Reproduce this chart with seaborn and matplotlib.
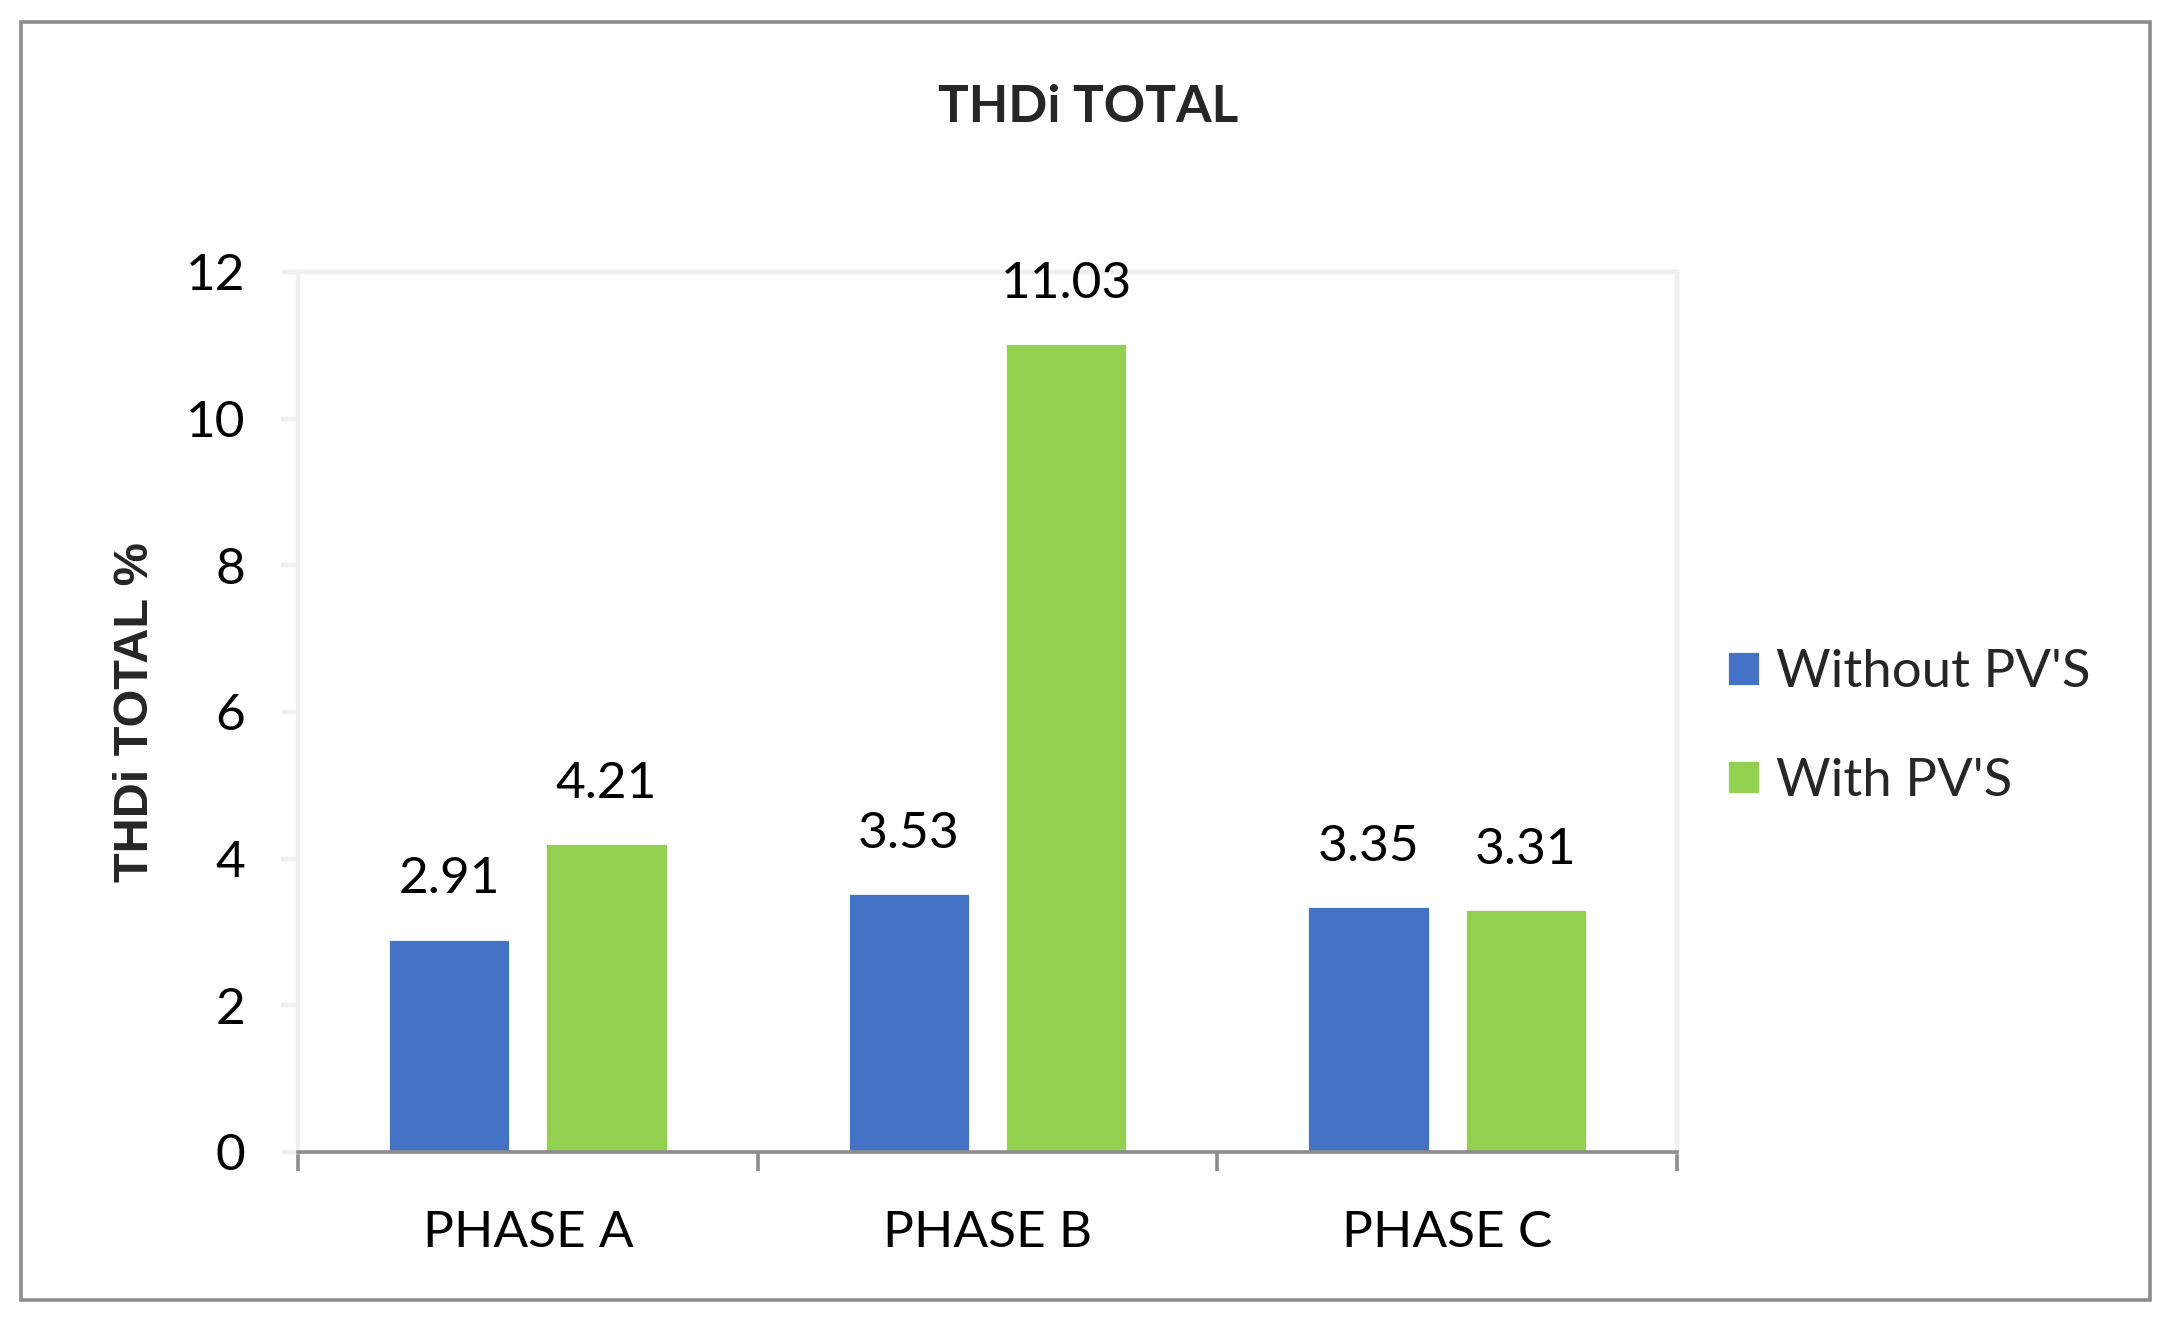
import matplotlib
matplotlib.use("Agg")
import matplotlib.pyplot as plt
import matplotlib.patches as mpatches
from matplotlib.ticker import FixedLocator, NullFormatter
import seaborn as sns
import pandas as pd

# ---- data ----
phases = ["PHASE A", "PHASE B", "PHASE C"]
series_names = ["Without PV'S", "With PV'S"]
without_pv = [2.91, 3.53, 3.35]
with_pv = [4.21, 11.03, 3.31]
y_ticks = [0, 2, 4, 6, 8, 10, 12]
colors = ["#4472C4", "#92D050"]

df = pd.DataFrame({
    "phase": phases * 2,
    "series": [series_names[0]] * 3 + [series_names[1]] * 3,
    "value": without_pv + with_pv,
})

sns.set_theme(style="white")
plt.rcParams["font.family"] = ["Lato", "DejaVu Sans"]

DPI = 200
fig = plt.figure(figsize=(2176 / DPI, 1321 / DPI), dpi=DPI)
ax = fig.add_axes([298 / 2176, 1 - 1152 / 1321, (1677 - 298) / 2176, (1152 - 272) / 1321])

sns.barplot(data=df, x="phase", y="value", hue="series", order=phases,
            hue_order=series_names, palette=colors, width=0.684, gap=0.222,
            saturation=1, ax=ax, legend=True)

ax.set_xlim(-0.5, 2.5)
ax.set_ylim(0, 12)
ax.set_yticks(y_ticks)
ax.set_xlabel("")
ax.set_ylabel("")

light = "#EFEFEF"
for s in ["left", "top", "right"]:
    ax.spines[s].set_color(light)
    ax.spines[s].set_linewidth(1.6)
ax.spines["bottom"].set_color("#8C8C8C")
ax.spines["bottom"].set_linewidth(1.3)

ax.tick_params(axis="y", which="major", length=6, width=1.6, color=light,
               labelsize=18.5, labelcolor="black", pad=13, left=True)
ax.tick_params(axis="x", which="major", length=0, labelsize=18.5,
               labelcolor="black", pad=21)
ax.xaxis.set_minor_locator(FixedLocator([-0.5, 0.5, 1.5, 2.5]))
ax.xaxis.set_minor_formatter(NullFormatter())
ax.tick_params(axis="x", which="minor", length=7, width=1.3, color="#8C8C8C",
               bottom=True, direction="out")

# value labels
for cont in ax.containers:
    ax.bar_label(cont, labels=[f"{v:.2f}" for v in cont.datavalues],
                 padding=13, fontsize=18.5, color="black")

# legend
h, l = ax.get_legend_handles_labels()
ax.get_legend().remove()
fig.legend(h, l, loc="center left", bbox_to_anchor=(1727 / 2176, 1 - 727 / 1321),
           frameon=False, fontsize=19, handlelength=0.62, handleheight=0.62,
           handletextpad=0.3, labelspacing=1.17, borderpad=0, borderaxespad=0)

# title and y label
fig.text(1088 / 2176, 1 - 107 / 1321, "THDi TOTAL", ha="center", va="center",
         fontsize=18.5, fontweight="bold")
fig.text(135 / 2176, 1 - 712 / 1321, "THDi TOTAL %", ha="center", va="center",
         rotation=90, fontsize=17.5, fontweight="bold",
         family=["Liberation Sans", "DejaVu Sans"])

# outer border
fig.patches.append(mpatches.Rectangle((21 / 2176, 1 - 1300 / 1321),
                                      (2150 - 21) / 2176, (1300 - 22) / 1321,
                                      transform=fig.transFigure, fill=False,
                                      edgecolor="#8C8C8C", linewidth=1.3))

fig.savefig("out.png", dpi=DPI, facecolor="white")
